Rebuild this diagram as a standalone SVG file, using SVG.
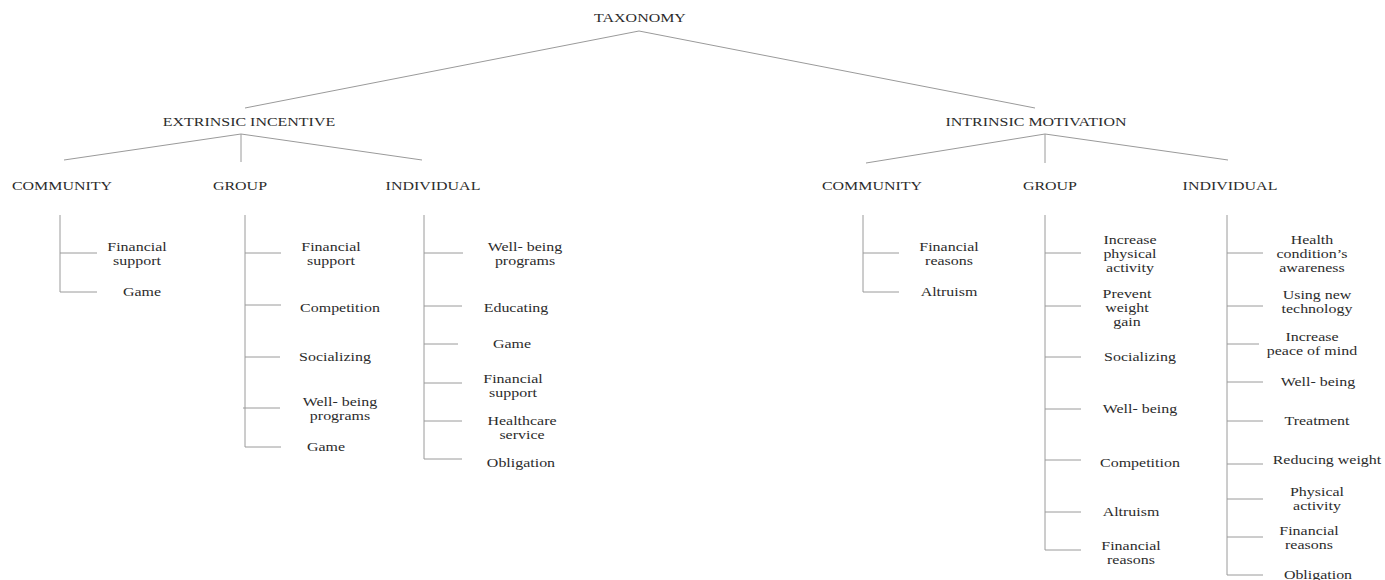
<svg xmlns="http://www.w3.org/2000/svg" width="1385" height="580" viewBox="0 0 1385 580">
<style>
.c{fill:none;stroke:#9a9a9a;stroke-width:1}
.t{font-family:"Liberation Serif","Times New Roman",serif;font-size:12px;fill:#2b2b2b;text-anchor:middle;transform-box:fill-box;transform-origin:center;transform:scaleX(1.33)}
</style>
<rect width="1385" height="580" fill="#ffffff"/>
<g id="connectors">
<path class="c" d="M245,108 L639,31 L1035,108"/>
<path class="c" d="M64,160 L241,134 L422,160 M241,134 V162"/>
<path class="c" d="M866,163 L1045,134 L1228,160 M1045,134 V163"/>
<path class="c" d="M60,215 V292 H97 M60,253 H97"/>
<path class="c" d="M245,215 V447 H281 M245,253 H281 M245,305 H281 M245,357 H280 M243,408 H280"/>
<path class="c" d="M424,215 V459 H462 M424,253 H463 M424,306 H462 M424,344 H458 M424,383 H462 M424,421 H462"/>
<path class="c" d="M863,215 V292 H899 M863,253 H899"/>
<path class="c" d="M1045,215 V550 H1081 M1045,253 H1081 M1045,306 H1081 M1045,357 H1081 M1045,409 H1081 M1045,460 H1081 M1045,512 H1081"/>
<path class="c" d="M1227,215 V575 H1263 M1227,253 H1263 M1227,306 H1263 M1227,344 H1259 M1227,382 H1263 M1227,421 H1263 M1227,464 H1263 M1227,499 H1263 M1227,537 H1263"/>
</g>
<g id="taxonomy"><text class="t" x="640" y="22">TAXONOMY</text></g>
<g id="extrinsic"><text class="t" x="249" y="126">EXTRINSIC INCENTIVE</text></g>
<g id="intrinsic"><text class="t" x="1036" y="126">INTRINSIC MOTIVATION</text></g>
<g id="e-community"><text class="t" x="62" y="190">COMMUNITY</text></g>
<g id="e-group"><text class="t" x="240" y="190">GROUP</text></g>
<g id="e-individual"><text class="t" x="433" y="190">INDIVIDUAL</text></g>
<g id="i-community"><text class="t" x="872" y="190">COMMUNITY</text></g>
<g id="i-group"><text class="t" x="1050" y="190">GROUP</text></g>
<g id="i-individual"><text class="t" x="1230" y="190">INDIVIDUAL</text></g>

<g id="ec-financial"><text class="t" y="251"><tspan x="137">Financial</tspan><tspan x="137" y="265">support</tspan></text></g>
<g id="ec-game"><text class="t" x="142" y="296">Game</text></g>

<g id="eg-financial"><text class="t" y="251"><tspan x="331">Financial</tspan><tspan x="331" y="265">support</tspan></text></g>
<g id="eg-competition"><text class="t" x="340" y="312">Competition</text></g>
<g id="eg-socializing"><text class="t" x="335" y="361">Socializing</text></g>
<g id="eg-wellbeing"><text class="t" y="406"><tspan x="340">Well- being</tspan><tspan x="340" y="420">programs</tspan></text></g>
<g id="eg-game"><text class="t" x="326" y="451">Game</text></g>

<g id="ei-wellbeing"><text class="t" y="251"><tspan x="525">Well- being</tspan><tspan x="525" y="265">programs</tspan></text></g>
<g id="ei-educating"><text class="t" x="516" y="312">Educating</text></g>
<g id="ei-game"><text class="t" x="512" y="348">Game</text></g>
<g id="ei-financial"><text class="t" y="383"><tspan x="513">Financial</tspan><tspan x="513" y="397">support</tspan></text></g>
<g id="ei-healthcare"><text class="t" y="425"><tspan x="522">Healthcare</tspan><tspan x="522" y="439">service</tspan></text></g>
<g id="ei-obligation"><text class="t" x="521" y="467">Obligation</text></g>

<g id="ic-financial"><text class="t" y="251"><tspan x="949">Financial</tspan><tspan x="949" y="265">reasons</tspan></text></g>
<g id="ic-altruism"><text class="t" x="949" y="296">Altruism</text></g>

<g id="ig-physical"><text class="t" y="244"><tspan x="1130">Increase</tspan><tspan x="1130" y="258">physical</tspan><tspan x="1130" y="272">activity</tspan></text></g>
<g id="ig-weight"><text class="t" y="298"><tspan x="1127">Prevent</tspan><tspan x="1127" y="312">weight</tspan><tspan x="1127" y="326">gain</tspan></text></g>
<g id="ig-socializing"><text class="t" x="1140" y="361">Socializing</text></g>
<g id="ig-wellbeing"><text class="t" x="1140" y="413">Well- being</text></g>
<g id="ig-competition"><text class="t" x="1140" y="467">Competition</text></g>
<g id="ig-altruism"><text class="t" x="1131" y="516">Altruism</text></g>
<g id="ig-financial"><text class="t" y="550"><tspan x="1131">Financial</tspan><tspan x="1131" y="564">reasons</tspan></text></g>

<g id="ii-health"><text class="t" y="244"><tspan x="1312">Health</tspan><tspan x="1312" y="258">condition’s</tspan><tspan x="1312" y="272">awareness</tspan></text></g>
<g id="ii-technology"><text class="t" y="299"><tspan x="1317">Using new</tspan><tspan x="1317" y="313">technology</tspan></text></g>
<g id="ii-peace"><text class="t" y="341"><tspan x="1312">Increase</tspan><tspan x="1312" y="355">peace of mind</tspan></text></g>
<g id="ii-wellbeing"><text class="t" x="1318" y="386">Well- being</text></g>
<g id="ii-treatment"><text class="t" x="1317" y="425">Treatment</text></g>
<g id="ii-reducing"><text class="t" x="1327" y="464">Reducing weight</text></g>
<g id="ii-physical"><text class="t" y="496"><tspan x="1317">Physical</tspan><tspan x="1317" y="510">activity</tspan></text></g>
<g id="ii-financial"><text class="t" y="535"><tspan x="1309">Financial</tspan><tspan x="1309" y="549">reasons</tspan></text></g>
<g id="ii-obligation"><text class="t" x="1318" y="579">Obligation</text></g>
</svg>
